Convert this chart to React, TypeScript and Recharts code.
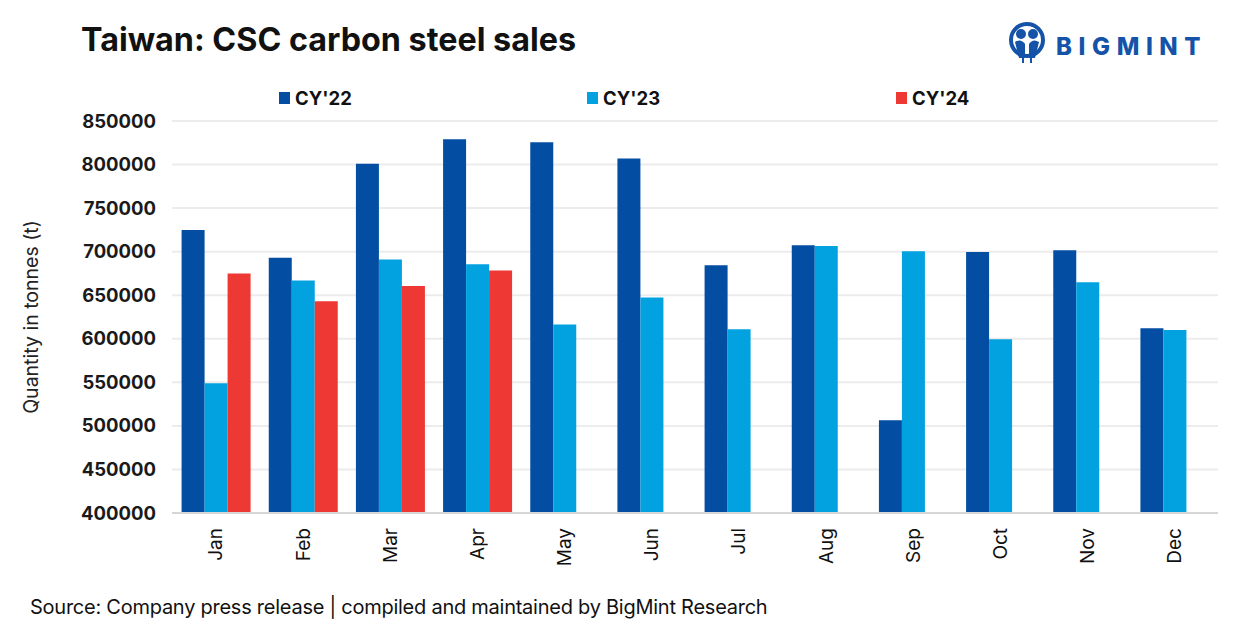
import React from "react";
import { BarChart, Bar, XAxis, YAxis, CartesianGrid } from "recharts";

const months = ["Jan", "Feb", "Mar", "Apr", "May", "Jun", "Jul", "Aug", "Sep", "Oct", "Nov", "Dec"];
const cy22 = [725000, 693000, 801000, 829000, 825500, 807000, 684500, 707500, 506500, 699500, 701500, 612000];
const cy23 = [549000, 667000, 691000, 685500, 616500, 647500, 611000, 706500, 700500, 599500, 665000, 610000];
const cy24 = [675000, 643000, 660500, 678500, null, null, null, null, null, null, null, null];
const yTicks = [400000, 450000, 500000, 550000, 600000, 650000, 700000, 750000, 800000, 850000];

const series = [
  { key: "cy22", name: "CY'22", color: "#034ea2" },
  { key: "cy23", name: "CY'23", color: "#02a2e0" },
  { key: "cy24", name: "CY'24", color: "#ee3833" },
];
const legendX = [279, 587, 896];

const data = months.map((m, i) => ({
  month: m,
  cy22: cy22[i],
  cy23: cy23[i],
  cy24: cy24[i],
}));

const FONT = "Inter, 'Liberation Sans', Arial, sans-serif";

const MonthTick = (props: any) => {
  const { x, y, payload } = props;
  const ty = y + 7;
  return (
    <text
      x={x}
      y={ty}
      transform={`rotate(-90, ${x}, ${ty})`}
      textAnchor="end"
      dy="0.36em"
      fontFamily={FONT}
      fontSize={19}
      fill="#111"
    >
      {payload.value}
    </text>
  );
};

const Logo = () => (
  <svg width={220} height={50} style={{ position: "absolute", left: 1005, top: 18 }}>
    <circle cx={22} cy={22} r={16} fill="none" stroke="#1553a8" strokeWidth={4} />
    <circle cx={16} cy={16} r={5} fill="#1553a8" />
    <circle cx={28} cy={16} r={5} fill="#1553a8" />
    <path d="M10 24 Q16 20 20 26 L20 40 L14 40 Z" fill="#1553a8" />
    <path d="M34 24 Q28 20 24 26 L24 40 L30 40 Z" fill="#1553a8" />
    <rect x={17} y={38} width={2} height={7} fill="#1553a8" />
    <rect x={25} y={38} width={2} height={7} fill="#1553a8" />
    <text x={51} y={37} fontFamily={FONT} fontWeight={800} fontSize={24} letterSpacing={6.6} fill="#1553a8">
      BIGMINT
    </text>
  </svg>
);

export default function App() {
  return (
    <div style={{ position: "absolute", left: 0, top: 0, width: 1241, height: 631, background: "#fff", fontFamily: FONT }}>
      <div style={{ position: "absolute", left: 81, top: 20, fontSize: 32.3, fontWeight: 700, color: "#111", whiteSpace: "nowrap" }}>
        Taiwan: CSC carbon steel sales
      </div>
      <Logo />
      {series.map((s, i) => (
        <div key={s.key} style={{ position: "absolute", left: legendX[i], top: 87, display: "flex", alignItems: "center", whiteSpace: "nowrap" }}>
          <span style={{ display: "inline-block", width: 11, height: 12, background: s.color, marginRight: 5 }} />
          <span style={{ fontSize: 18.5, fontWeight: 700, color: "#111" }}>{s.name}</span>
        </div>
      ))}
      <div
        style={{
          position: "absolute",
          left: 31,
          top: 317,
          transform: "translate(-50%, -50%) rotate(-90deg)",
          fontSize: 19.5,
          color: "#222",
          whiteSpace: "nowrap",
        }}
      >
        Quantity in tonnes (t)
      </div>
      <div style={{ position: "absolute", left: 30, top: 595, fontSize: 20, color: "#111", whiteSpace: "nowrap", letterSpacing: -0.25 }}>
        Source: Company press release | compiled and maintained by BigMint Research
      </div>
      <div style={{ position: "absolute", left: 0, top: 0 }}>
        <BarChart
          width={1241}
          height={631}
          data={data}
          margin={{ top: 121, right: 23, bottom: 0, left: 0 }}
          barCategoryGap="11%"
          barGap={0}
        >
          <CartesianGrid vertical={false} stroke="#ececec" strokeWidth={2} />
          <XAxis
            dataKey="month"
            height={118}
            interval={0}
            tickLine={false}
            axisLine={{ stroke: "#d6d6d6", strokeWidth: 2 }}
            tick={<MonthTick />}
          />
          <YAxis
            width={172}
            domain={[400000, 850000]}
            ticks={yTicks}
            allowDataOverflow
            axisLine={false}
            tickLine={false}
            tickMargin={10}
            tick={{ fontFamily: FONT, fontSize: 18.5, fontWeight: 700, fill: "#1a1a1a" }}
          />
          {series.map((s) => (
            <Bar key={s.key} dataKey={s.key} name={s.name} fill={s.color} isAnimationActive={false} />
          ))}
        </BarChart>
      </div>
    </div>
  );
}
